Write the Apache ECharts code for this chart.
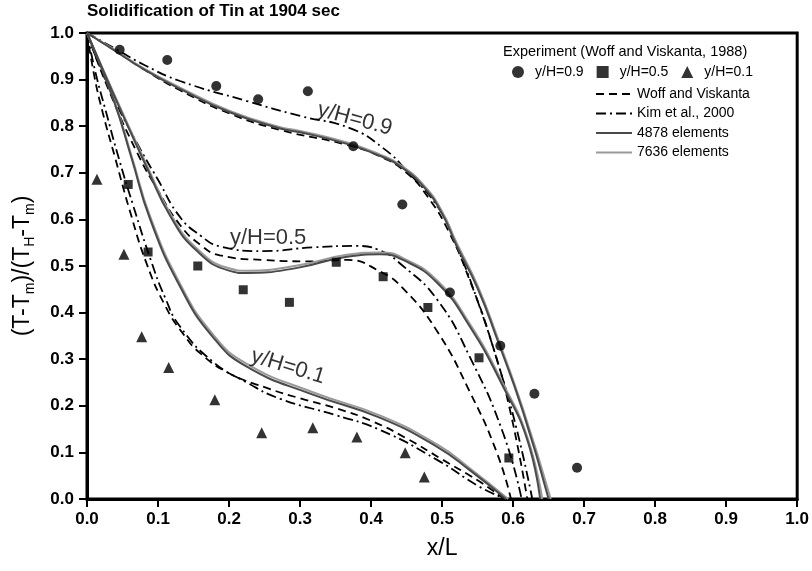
<!DOCTYPE html>
<html>
<head>
<meta charset="utf-8">
<script src="https://cdn.jsdelivr.net/npm/echarts@6/dist/echarts.min.js"></script>
<style>html,body{margin:0;padding:0;background:#fff}#c{width:812px;height:571px}</style>
</head>
<body>
<div id="c"></div>
<script>
// ---- Data ----
const xTicks = [0,0.1,0.2,0.3,0.4,0.5,0.6,0.7,0.8,0.9,1.0];
const yTicks = [0,0.1,0.2,0.3,0.4,0.5,0.6,0.7,0.8,0.9,1.0];

// Experiment (Woff and Viskanta, 1988)
const expH09 = [[0.046,0.964],[0.113,0.942],[0.182,0.886],[0.241,0.858],[0.311,0.875],[0.375,0.757],[0.444,0.632],[0.511,0.443],[0.582,0.329],[0.630,0.226],[0.690,0.067]];
const expH05 = [[0.058,0.675],[0.086,0.530],[0.156,0.500],[0.220,0.449],[0.285,0.422],[0.351,0.508],[0.417,0.477],[0.480,0.411],[0.552,0.303],[0.594,0.088]];
const expH01 = [[0.014,0.686],[0.052,0.525],[0.077,0.348],[0.115,0.282],[0.180,0.213],[0.246,0.142],[0.318,0.153],[0.380,0.133],[0.448,0.099],[0.475,0.047]];

// Woff and Viskanta (dashed)
const wv09 = [[0,1],[0.04,0.962],[0.08,0.922],[0.131,0.877],[0.201,0.827],[0.272,0.792],[0.366,0.760],[0.413,0.735],[0.45,0.700],[0.48,0.648],[0.51,0.572],[0.54,0.465],[0.57,0.335],[0.595,0.195],[0.620,0]];
const wv05 = [[0,1],[0.03,0.880],[0.07,0.745],[0.10,0.662],[0.131,0.588],[0.160,0.545],[0.187,0.523],[0.248,0.513],[0.318,0.510],[0.366,0.513],[0.413,0.488],[0.445,0.452],[0.493,0.360],[0.539,0.230],[0.577,0.100],[0.597,0]];
const wv01 = [[0,1],[0.01,0.910],[0.022,0.830],[0.04,0.730],[0.06,0.620],[0.084,0.505],[0.11,0.415],[0.135,0.355],[0.16,0.312],[0.20,0.270],[0.25,0.240],[0.30,0.216],[0.35,0.195],[0.40,0.168],[0.45,0.130],[0.50,0.085],[0.55,0.040],[0.588,0]];

// Kim et al., 2000 (dash-dot)
const kim09 = [[0,1],[0.04,0.966],[0.08,0.932],[0.131,0.897],[0.225,0.854],[0.300,0.822],[0.370,0.796],[0.417,0.753],[0.451,0.703],[0.497,0.620],[0.52,0.545],[0.55,0.425],[0.58,0.285],[0.605,0.150],[0.627,0]];
const kim05 = [[0,1],[0.03,0.885],[0.07,0.765],[0.10,0.685],[0.131,0.605],[0.160,0.565],[0.187,0.542],[0.248,0.532],[0.318,0.540],[0.380,0.543],[0.410,0.535],[0.445,0.500],[0.493,0.428],[0.539,0.305],[0.586,0.141],[0.612,0]];
const kim01 = [[0,1],[0.012,0.915],[0.026,0.835],[0.045,0.730],[0.065,0.630],[0.09,0.512],[0.11,0.432],[0.131,0.370],[0.177,0.295],[0.225,0.250],[0.272,0.215],[0.35,0.180],[0.413,0.148],[0.493,0.084],[0.553,0.026],[0.590,0]];

// 4878 elements (solid dark)
const e4878_09 = [[0,1],[0.037,0.964],[0.08,0.922],[0.131,0.880],[0.201,0.830],[0.272,0.795],[0.300,0.787],[0.366,0.762],[0.413,0.736],[0.441,0.714],[0.475,0.668],[0.50,0.612],[0.52,0.545],[0.55,0.452],[0.577,0.345],[0.614,0.187],[0.650,0]];
const e4878_05 = [[0,1],[0.037,0.870],[0.084,0.712],[0.118,0.605],[0.155,0.532],[0.200,0.490],[0.225,0.485],[0.296,0.496],[0.366,0.520],[0.413,0.525],[0.445,0.513],[0.493,0.464],[0.539,0.370],[0.586,0.241],[0.620,0.127],[0.638,0]];
const e4878_01 = [[0,1],[0.037,0.858],[0.063,0.730],[0.089,0.600],[0.131,0.456],[0.177,0.348],[0.225,0.284],[0.318,0.224],[0.413,0.174],[0.493,0.112],[0.539,0.062],[0.590,0]];

// 7636 elements (solid light)
const e7636_09 = [[0,1],[0.037,0.966],[0.08,0.924],[0.131,0.883],[0.201,0.833],[0.272,0.798],[0.300,0.790],[0.366,0.765],[0.413,0.739],[0.441,0.717],[0.475,0.672],[0.50,0.617],[0.52,0.551],[0.55,0.458],[0.577,0.351],[0.614,0.193],[0.653,0]];
const e7636_05 = [[0,1],[0.037,0.873],[0.084,0.717],[0.118,0.611],[0.155,0.537],[0.200,0.495],[0.225,0.490],[0.296,0.501],[0.366,0.524],[0.413,0.529],[0.445,0.517],[0.493,0.469],[0.539,0.376],[0.586,0.247],[0.620,0.133],[0.641,0]];
const e7636_01 = [[0,1],[0.037,0.861],[0.063,0.735],[0.089,0.606],[0.131,0.462],[0.177,0.354],[0.225,0.290],[0.318,0.229],[0.413,0.179],[0.493,0.117],[0.539,0.066],[0.593,0]];

// curve annotations
const curveLabels = [
  {text:'y/H=0.9', x:0.377, y:0.815, rot:-15},
  {text:'y/H=0.5', x:0.255, y:0.561, rot:0},
  {text:'y/H=0.1', x:0.283, y:0.284, rot:-17}
];

// ---- Chart ----
const FONT = 'Liberation Sans, Arial, sans-serif';
const NARROW = 'Liberation Sans Narrow, Liberation Sans, Arial, sans-serif';
const chart = echarts.init(document.getElementById('c'), null, {renderer:'canvas'});

function lineS(name, data, color, type, width, z) {
  return {type:'line', name, data, smooth:0.5, symbol:'none', showSymbol:false,
    lineStyle:{color, type, width}, itemStyle:{color:'rgba(0,0,0,0)', opacity:0}, z, silent:true, animation:false};
}
function scatS(name, data, symbol, size) {
  return {type:'scatter', name, data, symbol, symbolSize:size, itemStyle:{color:'#000'}, z:10, animation:false};
}
const DASH = [8,5];
const DASHDOT = [10,4,2,4];

const series = [
  lineS('Woff and Viskanta', wv09, '#000', DASH, 1.8, 3),
  lineS('Woff and Viskanta', wv05, '#000', DASH, 1.8, 3),
  lineS('Woff and Viskanta', wv01, '#000', DASH, 1.8, 3),
  lineS('Kim et al., 2000', kim09, '#000', DASHDOT, 1.8, 3),
  lineS('Kim et al., 2000', kim05, '#000', DASHDOT, 1.8, 3),
  lineS('Kim et al., 2000', kim01, '#000', DASHDOT, 1.8, 3),
  lineS('7636 elements', e7636_09, '#9a9a9a', 'solid', 2, 4),
  lineS('7636 elements', e7636_05, '#9a9a9a', 'solid', 2, 4),
  lineS('7636 elements', e7636_01, '#9a9a9a', 'solid', 2, 4),
  lineS('4878 elements', e4878_09, '#4a4a4a', 'solid', 2, 5),
  lineS('4878 elements', e4878_05, '#4a4a4a', 'solid', 2, 5),
  lineS('4878 elements', e4878_01, '#4a4a4a', 'solid', 2, 5),
  scatS('y/H=0.9', expH09, 'circle', 10),
  scatS('y/H=0.5', expH05, 'rect', 9),
  scatS('y/H=0.1', expH01, 'triangle', 11),
  {type:'scatter', name:'labels', silent:true, animation:false, symbolSize:1, itemStyle:{color:'rgba(0,0,0,0)'}, z:12,
   data: curveLabels.map(l => ({value:[l.x, l.y], label:{show:true, position:'inside', formatter:l.text, rotate:l.rot,
     fontSize:22, fontFamily:FONT, color:'#000'}}))}
];

chart.setOption({
  animation:false,
  backgroundColor:'#fff',
  title:[
    {text:'Solidification of Tin at 1904 sec', left:87, top:3, padding:0,
     textStyle:{fontSize:17, fontWeight:'bold', fontFamily:FONT, color:'#000'}},
    {text:'Experiment (Woff and Viskanta, 1988)', left:503, top:44, padding:0,
     textStyle:{fontSize:14.5, fontWeight:'normal', fontFamily:FONT, color:'#000'}}
  ],
  legend:[
    {data:['y/H=0.9','y/H=0.5','y/H=0.1'], left:512, top:65, orient:'horizontal', itemGap:13,
     itemWidth:12, itemHeight:12, padding:0, selectedMode:false,
     textStyle:{fontSize:14, fontFamily:FONT, color:'#000', padding:[0,0,0,6]}},
    {data:['Woff and Viskanta','Kim et al., 2000','4878 elements','7636 elements'], left:595, top:87,
     orient:'vertical', itemGap:5.5, itemWidth:36, itemHeight:14, padding:0, selectedMode:false,
     itemStyle:{opacity:0},
     textStyle:{fontSize:14, fontFamily:FONT, color:'#000'}}
  ],
  grid:{left:87, right:14, top:33, bottom:72, show:true, borderColor:'#000', borderWidth:3, backgroundColor:'transparent'},
  xAxis:{type:'value', min:xTicks[0], max:xTicks[xTicks.length-1], interval:0.1,
    name:'x/L', nameLocation:'middle', nameGap:38,
    nameTextStyle:{fontSize:23, fontFamily:NARROW, color:'#000'},
    axisLine:{show:true, onZero:false, lineStyle:{color:'#000', width:3}},
    axisTick:{show:true, inside:false, length:8, lineStyle:{color:'#000', width:2}},
    axisLabel:{margin:12, fontSize:17, fontWeight:'bold', fontFamily:NARROW, color:'#000',
      formatter:v => v.toFixed(1)},
    splitLine:{show:false}},
  yAxis:{type:'value', min:yTicks[0], max:yTicks[yTicks.length-1], interval:0.1,
    name:'{a|(T-T}{s|m}{a|)/(T}{s|H}{a|-T}{s|m}{a|)}', nameLocation:'middle', nameGap:50, nameRotate:90,
    nameTextStyle:{rich:{
      a:{fontSize:23, fontFamily:FONT, color:'#000'},
      s:{fontSize:14, fontFamily:FONT, color:'#000', padding:[14,0,0,0]}
    }},
    axisLine:{show:true, onZero:false, lineStyle:{color:'#000', width:3}},
    axisTick:{show:true, inside:false, length:8, lineStyle:{color:'#000', width:2}},
    axisLabel:{margin:13, fontSize:17, fontWeight:'bold', fontFamily:NARROW, color:'#000',
      formatter:v => v.toFixed(1)},
    splitLine:{show:false}},
  series
});
</script>
</body>
</html>
